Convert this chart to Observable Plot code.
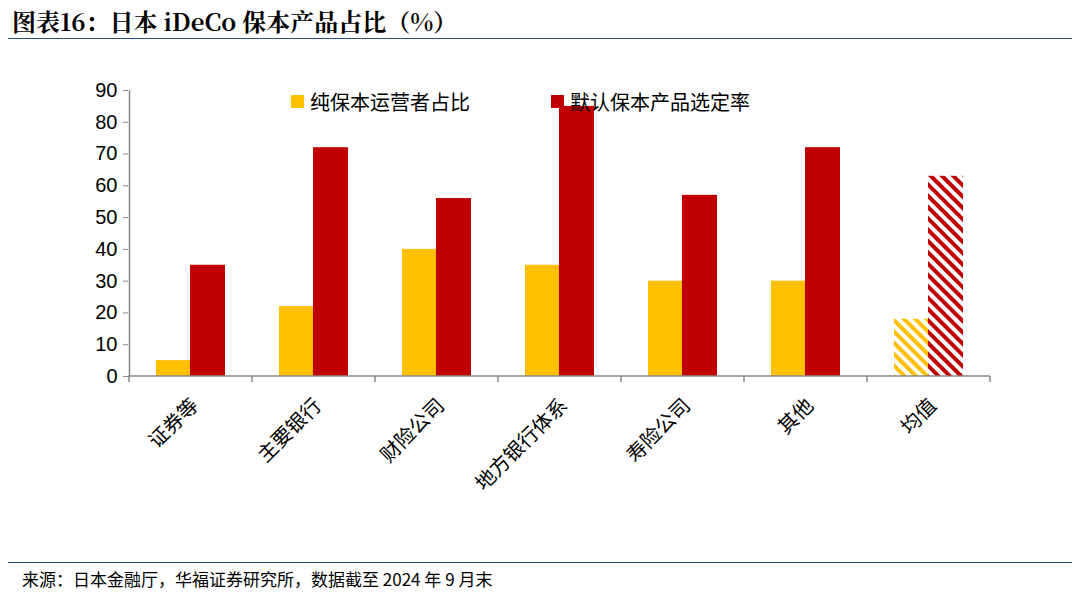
<!DOCTYPE html>
<html><head><meta charset="utf-8">
<script src="https://cdn.jsdelivr.net/npm/d3@7"></script>
<script src="https://cdn.jsdelivr.net/npm/@observablehq/plot@0.6"></script>
<style>
body{margin:0;width:1080px;height:595px;background:#fff;position:relative;overflow:hidden;font-family:"Noto Sans CJK SC",sans-serif}
#title{position:absolute;left:12px;top:3px;font-size:24px;font-weight:bold;font-family:"Noto Serif CJK SC","Noto Sans CJK SC";}
#tl{position:absolute;left:8px;right:8px;top:38px;border-top:1.5px solid #2a4f8f}
#fl{position:absolute;left:8px;right:8px;top:562px;border-top:1.5px solid #2a4f8f}
#src{position:absolute;left:22px;top:566px;font-size:17px}
#chart{position:absolute;left:0;top:40px}
.leg{position:absolute;top:87px;font-size:20px;display:flex;align-items:center}
.leg span{display:inline-block;width:13px;height:13px;margin-right:6px}
</style></head><body>
<div id="title">图表16：日本 iDeCo 保本产品占比（%）</div>
<div id="tl"></div>
<div id="chart"></div>
<div class="leg" style="left:291px"><span style="background:#FFC000"></span>纯保本运营者占比</div>
<div class="leg" style="left:551px"><span style="background:#C00000"></span>默认保本产品选定率</div>
<div id="fl"></div>
<div id="src">来源：日本金融厅，华福证券研究所，数据截至 2024 年 9 月末</div>
<script>
const categories = ["证券等","主要银行","财险公司","地方银行体系","寿险公司","其他","均值"];
const pureShare = [5,22,40,35,30,30,18];
const defaultRate = [35,72,56,85,57,72,63];
const yTicks = [0,10,20,30,40,50,60,70,80,90];

const rows = categories.map((c,i)=>({c, a:pureShare[i], b:defaultRate[i], avg: c==="均值"}));
const fillA = d => d.avg ? "url(#hatchY)" : "#FFC000";
const fillB = d => d.avg ? "url(#hatchR)" : "#C00000";

const axisMark = (index, scales, values, dims) => {
  const g = d3.create("svg:g");
  const defs = g.append("defs");
  [["hatchY","#FFC000"],["hatchR","#C00000"]].forEach(([id,col])=>{
    const p = defs.append("pattern").attr("id",id).attr("patternUnits","userSpaceOnUse")
      .attr("width",8).attr("height",8).attr("patternTransform","rotate(-45)");
    p.append("rect").attr("x",0).attr("y",0).attr("width",4).attr("height",8).attr("fill",col);
  });
  const x = scales.x, y = scales.y;
  const y0 = y(0), bw = x.bandwidth();
  const x0 = dims.marginLeft, x1 = dims.width - dims.marginRight;
  g.append("line").attr("x1",x0).attr("x2",x1).attr("y1",y0).attr("y2",y0).attr("stroke","#888").attr("stroke-width",1.5);
  const bounds = categories.map(c=>x(c)).concat([x(categories[categories.length-1])+bw]);
  bounds.forEach(b=>g.append("line").attr("x1",b).attr("x2",b).attr("y1",y0).attr("y2",y0+6).attr("stroke","#888").attr("stroke-width",1.5));
  return g.node();
};

const chart = Plot.plot({
  width:1080, height:520,
  marginTop:50, marginBottom:184, marginLeft:128, marginRight:90,
  x:{domain:categories, padding:0, label:null},
  y:{domain:[0,90], ticks:yTicks, label:null},
  style:{fontFamily:"Liberation Sans, Noto Sans CJK SC", fontSize:"20px", color:"#000"},
  marks:[
    Plot.barY(rows,{x:"c", y:"a", fill:fillA, insetLeft:27, insetRight:62}),
    Plot.barY(rows,{x:"c", y:"b", fill:fillB, insetLeft:61, insetRight:27}),
    axisMark,
    Plot.axisY({ticks:yTicks, tickSize:5, stroke:"#888", tickPadding:6, fontSize:20}),
    Plot.ruleX([0],{x:()=>categories[0], dx:-61.5, y1:0, y2:90, stroke:"#888", strokeWidth:1.5}),
    Plot.axisX({tickSize:0, tickRotate:-45, textAnchor:"end", dx:4, dy:14, fontSize:20, fontFamily:"Noto Sans CJK SC"})
  ]
});
document.getElementById("chart").appendChild(chart);
</script>
</body></html>
